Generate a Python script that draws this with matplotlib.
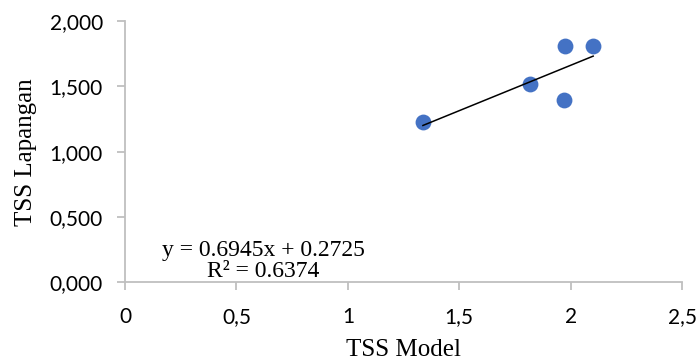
import matplotlib.pyplot as plt
from matplotlib.ticker import FuncFormatter

tss_model = [1.337, 1.816, 1.973, 1.969, 2.101]
tss_lapangan = [1.230, 1.516, 1.811, 1.396, 1.809]
slope = 0.6945
intercept = 0.2725
r2 = 0.6374

fig = plt.figure(figsize=(6.96, 3.63), dpi=100)
ax = fig.add_axes([0.1796, 0.222, 0.8004, 0.720])

ax.scatter(tss_model, tss_lapangan, s=130, color='#4472c4', zorder=3, linewidths=0)

x0, x1 = min(tss_model), max(tss_model)
ax.plot([x0, x1], [slope * x0 + intercept, slope * x1 + intercept], color='black', lw=1.1, zorder=4)

ax.text(0.62, 0.164, 'y = %.4fx + %.4f\nR² = %.4f' % (slope, intercept, r2),
        ha='center', va='center', fontsize=17, family='Liberation Serif',
        linespacing=0.95, zorder=5)

ax.set_xlim(0, 2.5)
ax.set_ylim(0, 2.0)
ax.set_xticks([0, 0.5, 1, 1.5, 2, 2.5])
ax.set_yticks([0, 0.5, 1, 1.5, 2])
ax.xaxis.set_major_formatter(FuncFormatter(lambda v, p: ('%g' % v).replace('.', ',')))
ax.yaxis.set_major_formatter(FuncFormatter(lambda v, p: ('%.3f' % v).replace('.', ',')))

for side in ['top', 'right']:
    ax.spines[side].set_visible(False)
for side in ['left', 'bottom']:
    ax.spines[side].set_color('#bfbfbf')
    ax.spines[side].set_linewidth(1.3)

ax.tick_params(axis='both', colors='#bfbfbf', labelcolor='black', width=1.3, length=6, labelsize=15)
ax.tick_params(axis='x', pad=12)
ax.tick_params(axis='y', pad=10)
for lab in ax.get_xticklabels() + ax.get_yticklabels():
    lab.set_family('Lato')

ax.set_xlabel('TSS Model', fontsize=18, family='Liberation Serif', labelpad=8)
ax.set_ylabel('TSS Lapangan', fontsize=18, family='Liberation Serif', labelpad=9)

fig.savefig('out.png', dpi=100)
